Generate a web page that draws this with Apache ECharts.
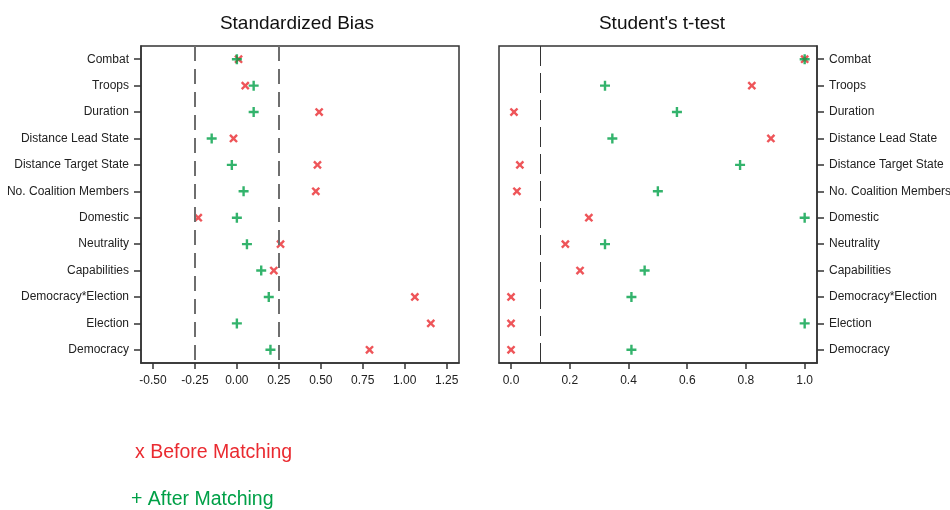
<!DOCTYPE html>
<html>
<head>
<meta charset="utf-8">
<script src="https://cdn.jsdelivr.net/npm/echarts@6/dist/echarts.min.js"></script>
<style>
  html, body { margin: 0; padding: 0; background: #fff; }
  #chart { width: 950px; height: 510px; }
</style>
</head>
<body>
<div id="chart"></div>
<script>
// ---- data
var covariates = ['Combat', 'Troops', 'Duration', 'Distance Lead State', 'Distance Target State',
    'No. Coalition Members', 'Domestic', 'Neutrality', 'Capabilities', 'Democracy*Election',
    'Election', 'Democracy'];

var biasBefore = [0.01, 0.05, 0.49, -0.02, 0.48, 0.47, -0.23, 0.26, 0.22, 1.06, 1.155, 0.79];
var biasAfter = [0.00, 0.10, 0.10, -0.15, -0.03, 0.04, 0.00, 0.06, 0.145, 0.19, 0.00, 0.20];

var tBefore = [1.0, 0.82, 0.01, 0.885, 0.03, 0.02, 0.265, 0.185, 0.235, 0.0, 0.0, 0.0];
var tAfter = [1.0, 0.32, 0.565, 0.345, 0.78, 0.50, 1.0, 0.32, 0.455, 0.41, 1.0, 0.41];

var biasTicks = [-0.5, -0.25, 0, 0.25, 0.5, 0.75, 1.0, 1.25];
var tTicks = [0, 0.2, 0.4, 0.6, 0.8, 1.0];
var biasCutoffs = [-0.25, 0.25];
var tCutoff = [0.1];

var RED = '#EA2A30';
var GREEN = '#00A047';
var PLUS = 'path://M3.8,0H6.2V3.8H10V6.2H6.2V10H3.8V6.2H0V3.8H3.8Z';

function pairs(vals) {
    return vals.map(function (v, i) { return [v, covariates[i]]; });
}

var chart = echarts.init(document.getElementById('chart'));

var xAxisBase = {
    type: 'value',
    splitLine: { show: false },
    axisLine: { show: true, onZero: false, lineStyle: { color: '#333', width: 1.5 } },
    axisTick: { show: true, length: 6, lineStyle: { color: '#333', width: 1.5 } },
    axisLabel: { color: '#222', fontSize: 12, fontFamily: 'Liberation Sans', margin: 12 }
};

var yAxisBase = {
    type: 'category',
    data: covariates,
    inverse: true,
    axisLine: { show: true, onZero: false, lineStyle: { color: '#333', width: 1.5 } },
    axisTick: { show: true, alignWithLabel: true, length: 7, lineStyle: { color: '#333', width: 1.5 } },
    axisLabel: { color: '#222', fontSize: 12, fontFamily: 'Liberation Sans', margin: 12 }
};

option = {
    animation: false,
    textStyle: { fontFamily: 'Liberation Sans' },
    title: [{
        text: 'Standardized Bias',
        left: 292, top: 9, textAlign: 'center',
        textStyle: { fontSize: 19, fontWeight: 'normal', color: '#111' }
    }, {
        text: "Student's t-test",
        left: 657, top: 9, textAlign: 'center',
        textStyle: { fontSize: 19, fontWeight: 'normal', color: '#111' }
    }],
    graphic: [{
        type: 'text', left: 135, top: 443,
        style: { text: 'x Before Matching', fill: RED, fontSize: 19.5, fontFamily: 'Liberation Sans' }
    }, {
        type: 'text', left: 131, top: 490,
        style: { text: '+ After Matching', fill: GREEN, fontSize: 19.5, fontFamily: 'Liberation Sans' }
    }],
    grid: [
        { left: 141, top: 46, width: 318, height: 317, show: true, borderColor: '#333', borderWidth: 1.5,
          outerBoundsMode: 'none' },
        { left: 499, top: 46, width: 318, height: 317, show: true, borderColor: '#333', borderWidth: 1.5,
          outerBoundsMode: 'none' }
    ],
    xAxis: [
        Object.assign({}, xAxisBase, {
            gridIndex: 0, min: -0.571, max: 1.323,
            axisTick: Object.assign({}, xAxisBase.axisTick, { customValues: biasTicks }),
            axisLabel: Object.assign({}, xAxisBase.axisLabel, {
                customValues: biasTicks,
                formatter: function (v) { return v.toFixed(2); }
            })
        }),
        Object.assign({}, xAxisBase, {
            gridIndex: 1, min: -0.041, max: 1.042,
            axisTick: Object.assign({}, xAxisBase.axisTick, { customValues: tTicks }),
            axisLabel: Object.assign({}, xAxisBase.axisLabel, {
                customValues: tTicks,
                formatter: function (v) { return v.toFixed(1); }
            })
        })
    ],
    yAxis: [
        Object.assign({}, yAxisBase, { gridIndex: 0, position: 'left' }),
        Object.assign({}, yAxisBase, { gridIndex: 1, position: 'right' })
    ],
    series: [{
        name: 'Bias before', type: 'scatter', xAxisIndex: 0, yAxisIndex: 0,
        symbol: PLUS, symbolRotate: 45, symbolSize: 10,
        itemStyle: { color: RED },
        data: pairs(biasBefore),
        markLine: {
            silent: true, symbol: 'none', label: { show: false },
            lineStyle: { color: '#6e6e6e', width: 2, type: [15, 8] },
            data: biasCutoffs.map(function (c) { return { xAxis: c }; })
        }
    }, {
        name: 'Bias after', type: 'scatter', xAxisIndex: 0, yAxisIndex: 0,
        symbol: PLUS, symbolSize: 10,
        itemStyle: { color: GREEN },
        data: pairs(biasAfter)
    }, {
        name: 't before', type: 'scatter', xAxisIndex: 1, yAxisIndex: 1,
        symbol: PLUS, symbolRotate: 45, symbolSize: 10,
        itemStyle: { color: RED },
        data: pairs(tBefore),
        markLine: {
            silent: true, symbol: 'none', label: { show: false },
            lineStyle: { color: '#333', width: 1, type: [20, 7] },
            data: tCutoff.map(function (c) { return { xAxis: c }; })
        }
    }, {
        name: 't after', type: 'scatter', xAxisIndex: 1, yAxisIndex: 1,
        symbol: PLUS, symbolSize: 10,
        itemStyle: { color: GREEN },
        data: pairs(tAfter)
    }]
};

chart.setOption(option);
</script>
</body>
</html>
